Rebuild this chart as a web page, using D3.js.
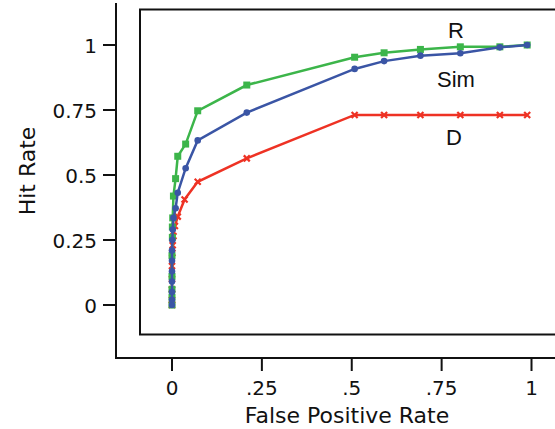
<!DOCTYPE html>
<html><head><meta charset="utf-8">
<script src="https://cdn.jsdelivr.net/npm/d3@7"></script>
<style>html,body{margin:0;padding:0;background:#fff;}</style>
</head><body>
<svg id="c" width="555" height="429"></svg>
<script>
// Data
const xTicks = [0, 0.25, 0.5, 0.75, 1];
const xTickLabels = ["0", ".25", ".5", ".75", "1"];
const yTicks = [0, 0.25, 0.5, 0.75, 1];
const yTickLabels = ["0", "0.25", "0.5", "0.75", "1"];

const rFpr = [0, 0, 0, 0, 0, 0.001, 0.001, 0.002, 0.004, 0.01, 0.016, 0.038, 0.0715, 0.208, 0.508, 0.59, 0.691, 0.802, 0.912, 0.988];
const rHit = [0, 0.03, 0.06, 0.11, 0.19, 0.26, 0.30, 0.335, 0.419, 0.486, 0.572, 0.619, 0.747, 0.846, 0.953, 0.97, 0.983, 0.993, 0.993, 1.0];

const simFpr = [0, 0, 0, 0, 0, 0, 0, 0.001, 0.002, 0.004, 0.01, 0.016, 0.038, 0.0715, 0.208, 0.508, 0.59, 0.691, 0.802, 0.912, 0.988];
const simHit = [0, 0.02, 0.05, 0.09, 0.13, 0.17, 0.21, 0.25, 0.29, 0.335, 0.372, 0.432, 0.526, 0.633, 0.74, 0.908, 0.938, 0.959, 0.968, 0.991, 1.0];

const dFpr = [0, 0, 0, 0, 0, 0.001, 0.002, 0.004, 0.008, 0.016, 0.035, 0.0715, 0.208, 0.508, 0.59, 0.691, 0.802, 0.912, 0.988];
const dHit = [0, 0.02, 0.06, 0.1, 0.15, 0.2, 0.23, 0.265, 0.304, 0.34, 0.406, 0.474, 0.564, 0.731, 0.731, 0.731, 0.731, 0.731, 0.731];

const seriesNames = ["R", "Sim", "D"];
const colors = {R: "#3cb54a", Sim: "#3a55a5", D: "#ee3224"};

const svg = d3.select("#c");
const x = d3.scaleLinear().domain([0, 1]).range([172, 531.5]);
const y = d3.scaleLinear().domain([0, 1]).range([305, 45]);

// inner frame
svg.append("rect").attr("x", 140).attr("y", 9.5).attr("width", 430).attr("height", 325)
  .attr("fill", "none").attr("stroke", "#111").attr("stroke-width", 2);

// outer axis lines
svg.append("line").attr("x1", 116).attr("x2", 116).attr("y1", 3).attr("y2", 358.5)
  .attr("stroke", "#111").attr("stroke-width", 2);
svg.append("line").attr("x1", 115).attr("x2", 555).attr("y1", 358).attr("y2", 358)
  .attr("stroke", "#111").attr("stroke-width", 2);

const font = "'DejaVu Sans', sans-serif";
// y ticks
yTicks.forEach((t, i) => {
  svg.append("line").attr("x1", 103).attr("x2", 116).attr("y1", y(t)).attr("y2", y(t))
    .attr("stroke", "#111").attr("stroke-width", 2);
  svg.append("text").attr("x", 97).attr("y", y(t) + 7.5).attr("text-anchor", "end")
    .attr("font-family", font).attr("font-size", 20).attr("fill", "#111").text(yTickLabels[i]);
});
// x ticks
xTicks.forEach((t, i) => {
  svg.append("line").attr("x1", x(t)).attr("x2", x(t)).attr("y1", 358).attr("y2", 371)
    .attr("stroke", "#111").attr("stroke-width", 2);
  svg.append("text").attr("x", x(t)).attr("y", 395).attr("text-anchor", "middle")
    .attr("font-family", font).attr("font-size", 20).attr("fill", "#111").text(xTickLabels[i]);
});
svg.append("text").attr("x", 347).attr("y", 423).attr("text-anchor", "middle")
  .attr("font-family", font).attr("font-size", 22).attr("fill", "#111").text("False Positive Rate");
svg.append("text").attr("transform", "translate(35,171) rotate(-90)").attr("text-anchor", "middle")
  .attr("font-family", font).attr("font-size", 22).attr("fill", "#111").text("Hit Rate");

const line = d3.line().x(d => x(d[0])).y(d => y(d[1]));
function pts(a, b) { return a.map((v, i) => [v, b[i]]); }

// D (red, x markers)
const dPts = pts(dFpr, dHit);
svg.append("path").datum(dPts).attr("d", line).attr("fill", "none")
  .attr("stroke", colors.D).attr("stroke-width", 2.5);
svg.append("g").selectAll("path").data(dPts).join("path")
  .attr("d", d => { const cx = x(d[0]), cy = y(d[1]), s = 3;
    return `M${cx-s},${cy-s}L${cx+s},${cy+s}M${cx-s},${cy+s}L${cx+s},${cy-s}`; })
  .attr("stroke", colors.D).attr("stroke-width", 2.2);

// R (green, squares)
const rPts = pts(rFpr, rHit);
svg.append("path").datum(rPts).attr("d", line).attr("fill", "none")
  .attr("stroke", colors.R).attr("stroke-width", 2.5);
svg.append("g").selectAll("rect").data(rPts).join("rect")
  .attr("x", d => x(d[0]) - 3.5).attr("y", d => y(d[1]) - 3.5).attr("width", 7).attr("height", 7)
  .attr("fill", colors.R);

// Sim (blue, circles)
const sPts = pts(simFpr, simHit);
svg.append("path").datum(sPts).attr("d", line).attr("fill", "none")
  .attr("stroke", colors.Sim).attr("stroke-width", 2.5);
svg.append("g").selectAll("circle").data(sPts).join("circle")
  .attr("cx", d => x(d[0])).attr("cy", d => y(d[1])).attr("r", 3.3)
  .attr("fill", colors.Sim);

// Series labels
const lf = "'Liberation Sans', Arial, sans-serif";
svg.append("text").attr("x", 456).attr("y", 38).attr("text-anchor", "middle")
  .attr("font-family", lf).attr("font-size", 22).attr("fill", "#111").text(seriesNames[0]);
svg.append("text").attr("x", 456).attr("y", 87).attr("text-anchor", "middle")
  .attr("font-family", lf).attr("font-size", 22).attr("fill", "#111").text(seriesNames[1]);
svg.append("text").attr("x", 454).attr("y", 145).attr("text-anchor", "middle")
  .attr("font-family", lf).attr("font-size", 22).attr("fill", "#111").text(seriesNames[2]);
</script>
</body></html>
